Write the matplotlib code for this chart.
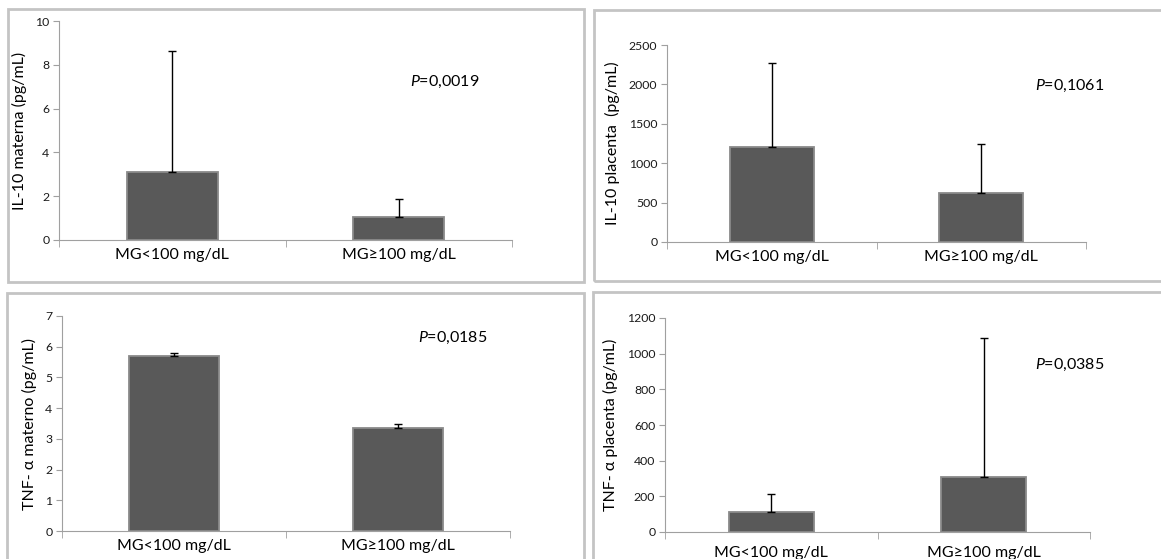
import matplotlib
matplotlib.use("Agg")
import matplotlib.pyplot as plt
from matplotlib.patches import Rectangle

plt.rcParams['font.family'] = ['Lato', 'DejaVu Sans']
plt.rcParams['mathtext.fontset'] = 'custom'
plt.rcParams['mathtext.rm'] = 'Lato'
plt.rcParams['mathtext.it'] = 'Lato:italic'

categories = ["MG<100 mg/dL", "MG≥100 mg/dL"]

il10_materna = [3.1, 1.05]
il10_materna_sd = [5.55, 0.8]
il10_placenta = [1210, 625]
il10_placenta_sd = [1060, 615]
tnf_materno = [5.7, 3.35]
tnf_materno_sd = [0.1, 0.13]
tnf_placenta = [110, 310]
tnf_placenta_sd = [105, 780]

ylabels = ["IL-10 materna (pg/mL)", "IL-10 placenta  (pg/mL)",
           "TNF- α materno (pg/mL)", "TNF- α placenta (pg/mL)"]
pvalues = ["0,0019", "0,1061", "0,0185", "0,0385"]
yticks = [[0, 2, 4, 6, 8, 10],
          [0, 500, 1000, 1500, 2000, 2500],
          [0, 1, 2, 3, 4, 5, 6, 7],
          [0, 200, 400, 600, 800, 1000, 1200]]

W, H = 1161, 559
fig = plt.figure(figsize=(W / 100, H / 100), dpi=100)

# grey frames around each panel (pixel boxes)
frames = [(8, 9, 584, 282), (594, 10, 1166, 281),
          (7, 293, 584, 566), (593, 292, 1166, 566)]
for x0, y0, x1, y1 in frames:
    fig.patches.append(Rectangle((x0 / W, 1 - y1 / H), (x1 - x0) / W, (y1 - y0) / H,
                                 transform=fig.transFigure, fill=False,
                                 edgecolor='#c4c4c4', linewidth=2, zorder=0))

# axes boxes in pixels: left, top, right, bottom
boxes = [(59, 21, 512, 240), (667, 45, 1086, 242),
         (62, 316, 510, 531), (665, 318, 1090, 532)]
ptext_pos = [(0.775, 0.72), (0.878, 0.79), (0.795, 0.898), (0.871, 0.78)]
xlabel_pad = [6, 6, 6, 10]

data = [(il10_materna, il10_materna_sd), (il10_placenta, il10_placenta_sd),
        (tnf_materno, tnf_materno_sd), (tnf_placenta, tnf_placenta_sd)]

for i, (vals, sds) in enumerate(data):
    l, t, r, b = boxes[i]
    ax = fig.add_axes([l / W, 1 - b / H, (r - l) / W, (b - t) / H])
    x = range(len(categories))
    ax.bar(x, vals, width=0.4, color='#595959', edgecolor='#8a8a8a',
           linewidth=1.3, zorder=2)
    ax.errorbar(x, vals, yerr=[[0] * len(sds), sds], fmt='none', ecolor='black',
                elinewidth=1, capsize=2.6, capthick=1, zorder=3)
    ax.set_xlim(-0.5, 1.5)
    ax.set_ylim(0, yticks[i][-1])
    ax.set_yticks(yticks[i])
    ax.set_xticks(list(x))
    ax.set_xticklabels(categories, fontsize=11.5)
    ax.set_xticks([-0.5, 0.5, 1.5], minor=True)
    ax.tick_params(axis='x', which='major', length=0, pad=xlabel_pad[i])
    ax.tick_params(axis='x', which='minor', length=5, color='#a0a0a0', direction='out')
    ax.tick_params(axis='y', length=4, color='#a0a0a0', labelsize=8.8, pad=3,
                   labelcolor='#1a1a1a')
    for s in ['top', 'right']:
        ax.spines[s].set_visible(False)
    for s in ['left', 'bottom']:
        ax.spines[s].set_color('#a0a0a0')
    ax.set_ylabel(ylabels[i], fontsize=11.5, labelpad=6)
    px, py = ptext_pos[i]
    ax.text(px, py, r'$\mathit{P}$=' + pvalues[i], transform=ax.transAxes,
            fontsize=11.5, va='center', ha='left')

fig.savefig("out.png", dpi=100)
